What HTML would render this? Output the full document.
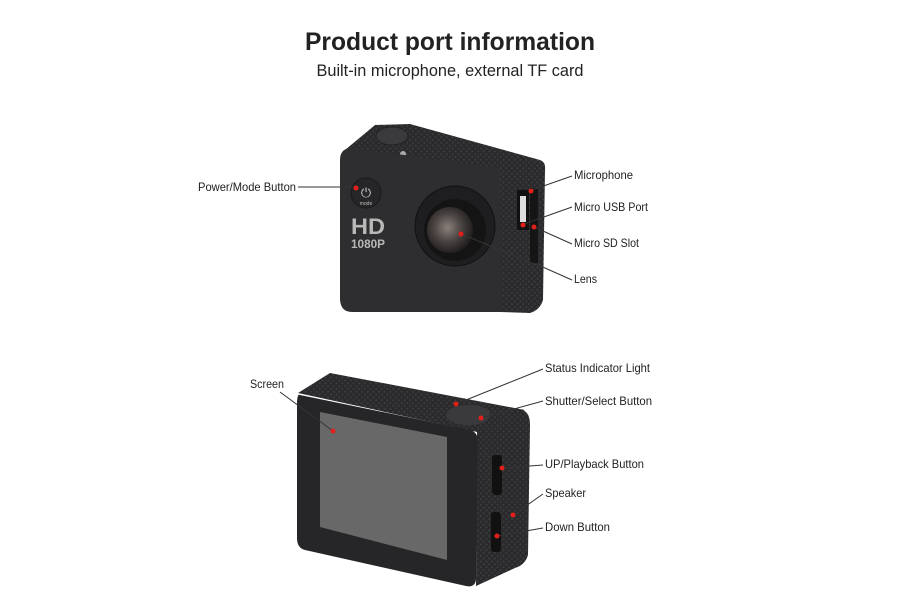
<!DOCTYPE html>
<html><head><meta charset="utf-8"><style>
html,body{margin:0;padding:0;background:#fff;}
svg{display:block;font-family:"Liberation Sans",sans-serif;}
</style></head><body>
<svg width="900" height="600" viewBox="0 0 900 600" xmlns="http://www.w3.org/2000/svg">
<defs>
<pattern id="tex" width="4" height="4" patternUnits="userSpaceOnUse" patternTransform="rotate(45)">
<rect width="4" height="4" fill="#2a2a2c"/><rect width="2" height="2" fill="#3a3a3d"/>
</pattern>
<radialGradient id="lensg" cx="0.45" cy="0.45" r="0.6">
<stop offset="0" stop-color="#8a7f7a"/><stop offset="0.5" stop-color="#4a4442"/><stop offset="1" stop-color="#1a1818"/>
</radialGradient>
</defs>
<text x="450" y="50" text-anchor="middle" font-size="25" font-weight="bold" fill="#222" textLength="290" lengthAdjust="spacingAndGlyphs">Product port information</text>
<text x="450" y="76" text-anchor="middle" font-size="17" fill="#222" textLength="267" lengthAdjust="spacingAndGlyphs">Built-in microphone, external TF card</text>

<!-- Top camera -->
<polygon points="345,150 375,125 410,124 540,160 500,170" fill="url(#tex)"/>
<ellipse cx="392" cy="136" rx="16" ry="9" fill="#3a3a3c" stroke="#222"/>
<circle cx="403" cy="154" r="3" fill="#aaa"/>
<path d="M500,168 L540,160 Q546,162 545,170 L543,300 Q540,310 530,313 L500,312 Z" fill="url(#tex)"/>
<path d="M340,160 Q340,148 352,148 L500,168 L502,312 L352,312 Q340,312 340,298 Z" fill="#2e2e30"/>
<circle cx="366" cy="193" r="15" fill="#262628" stroke="#1a1a1a"/>
<text x="366" y="197" text-anchor="middle" font-size="13" fill="#ccc">⏻</text>
<text x="366" y="205" text-anchor="middle" font-size="5" fill="#bbb">mode</text>
<text x="351" y="234" font-size="22" font-weight="bold" fill="#b8b8b8" textLength="34" lengthAdjust="spacingAndGlyphs">HD</text>
<text x="351" y="248" font-size="12" font-weight="bold" fill="#b8b8b8" textLength="34" lengthAdjust="spacingAndGlyphs">1080P</text>
<circle cx="455" cy="226" r="40" fill="#1e1e20" stroke="#111"/>
<circle cx="455" cy="230" r="31" fill="#141414"/>
<circle cx="450" cy="230" r="23" fill="url(#lensg)"/>
<rect x="517" y="190" width="12" height="40" fill="#111"/>
<rect x="520" y="196" width="6" height="26" fill="#ddd"/>
<rect x="530" y="188" width="8" height="75" fill="#151515"/>
<!-- bottom camera -->
<polygon points="298,393 330,373 525,410 477,432" fill="url(#tex)"/>
<ellipse cx="468" cy="415" rx="22" ry="10" fill="#3a3a3c"/>
<path d="M477,430 L522,410 Q530,412 530,425 L528,555 Q525,565 515,568 L476,586 Z" fill="url(#tex)"/>
<path d="M300,395 L470,430 Q478,432 478,442 L476,578 Q476,588 466,586 L305,550 Q297,548 297,538 L297,405 Q297,393 300,395 Z" fill="#262628"/>
<polygon points="320,412 447,437 447,560 320,527" fill="#686868"/>
<rect x="492" y="455" width="10" height="40" rx="3" fill="#111"/>
<rect x="491" y="512" width="10" height="40" rx="3" fill="#111"/>

<g stroke="#333" stroke-width="1" fill="none">
<line x1="298" y1="187" x2="357" y2="187"/>
<line x1="532" y1="190" x2="572" y2="176"/>
<line x1="524" y1="224" x2="572" y2="207"/>
<line x1="534" y1="227" x2="572" y2="244"/>
<line x1="461" y1="234" x2="545" y2="268"/><line x1="545" y1="268" x2="572" y2="280"/>
<line x1="280" y1="392" x2="333" y2="431"/>
<line x1="456" y1="404" x2="543" y2="369"/>
<line x1="481" y1="418" x2="543" y2="401"/>
<line x1="503" y1="468" x2="543" y2="465"/>
<line x1="513" y1="515" x2="543" y2="494"/>
<line x1="497" y1="536" x2="543" y2="528"/>
</g>
<g fill="#e0201a">
<circle cx="356" cy="188" r="2.5"/><circle cx="531" cy="191" r="2.5"/><circle cx="523" cy="225" r="2.5"/>
<circle cx="534" cy="227" r="2.5"/><circle cx="461" cy="234" r="2.5"/>
<circle cx="333" cy="431" r="2.5"/><circle cx="456" cy="404" r="2.5"/><circle cx="481" cy="418" r="2.5"/>
<circle cx="502" cy="468" r="2.5"/><circle cx="513" cy="515" r="2.5"/><circle cx="497" cy="536" r="2.5"/>
</g>
<g font-size="12" fill="#222" lengthAdjust="spacingAndGlyphs">
<text x="198" y="191" textLength="98" lengthAdjust="spacingAndGlyphs">Power/Mode Button</text>
<text x="574" y="179" textLength="59" lengthAdjust="spacingAndGlyphs">Microphone</text>
<text x="574" y="211" textLength="74" lengthAdjust="spacingAndGlyphs">Micro USB Port</text>
<text x="574" y="247" textLength="65" lengthAdjust="spacingAndGlyphs">Micro SD Slot</text>
<text x="574" y="283" textLength="23" lengthAdjust="spacingAndGlyphs">Lens</text>
<text x="250" y="388" textLength="34" lengthAdjust="spacingAndGlyphs">Screen</text>
<text x="545" y="372" textLength="105" lengthAdjust="spacingAndGlyphs">Status Indicator Light</text>
<text x="545" y="405" textLength="107" lengthAdjust="spacingAndGlyphs">Shutter/Select Button</text>
<text x="545" y="468" textLength="99" lengthAdjust="spacingAndGlyphs">UP/Playback Button</text>
<text x="545" y="497" textLength="41" lengthAdjust="spacingAndGlyphs">Speaker</text>
<text x="545" y="531" textLength="65" lengthAdjust="spacingAndGlyphs">Down Button</text>
</g>
</svg>
</body></html>
